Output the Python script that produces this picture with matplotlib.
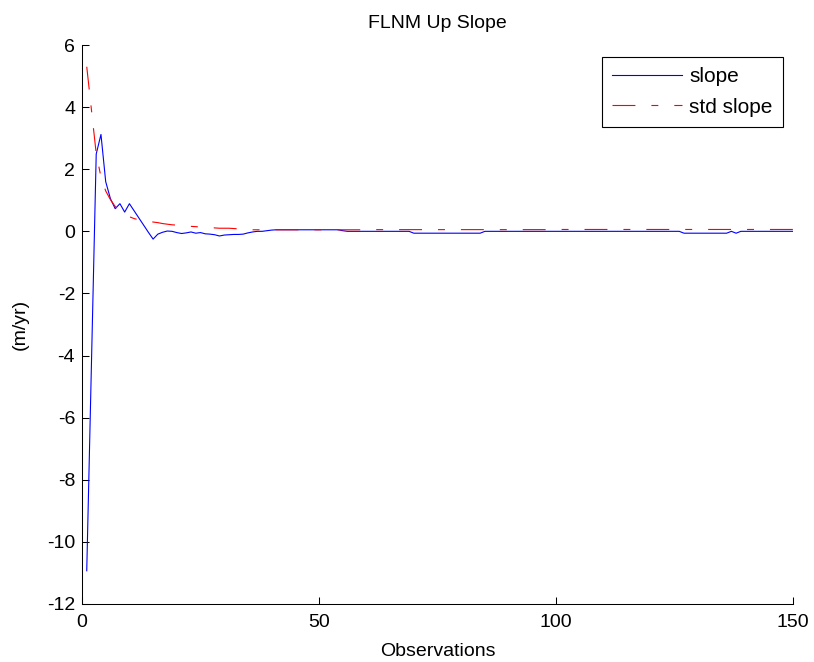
"""FLNM Up Slope: slope estimate and its standard deviation vs number of observations."""

import matplotlib

matplotlib.use("Agg")
import matplotlib.pyplot as plt

plt.rcParams["font.family"] = ["Liberation Sans", "DejaVu Sans"]
plt.rcParams["lines.scale_dashes"] = False
plt.rcParams["axes.unicode_minus"] = False  # MATLAB prints a plain hyphen

observations = list(range(1, 151))

slope = [
    -10.93, -4.20, 2.49, 3.12, 1.60, 1.05, 0.73, 0.89, 0.62, 0.89,    # 1-10
    0.66, 0.43, 0.20, -0.03, -0.25, -0.09, -0.03, 0.01, 0.00, -0.04,  # 11-20
    -0.07, -0.05, -0.02, -0.06, -0.04, -0.08, -0.09, -0.11, -0.15, -0.12,  # 21-30
    -0.11, -0.10, -0.10, -0.09, -0.05, -0.02, 0.00, 0.00, 0.02, 0.04,  # 31-40
    0.05, 0.05, 0.05, 0.05, 0.05, 0.05, 0.05, 0.05, 0.05, 0.05,      # 41-50
    0.05, 0.05, 0.05, 0.05, 0.02, 0.00, 0.00, 0.00, 0.00, 0.00,      # 51-60
    0.00, 0.00, 0.00, 0.00, 0.00, 0.00, 0.00, 0.00, 0.00, -0.06,     # 61-70
    -0.06, -0.06, -0.06, -0.06, -0.06, -0.06, -0.06, -0.06, -0.06, -0.06,  # 71-80
    -0.06, -0.06, -0.06, -0.06, 0.00, 0.00, 0.00, 0.00, 0.00, 0.00,  # 81-90
    0.00, 0.00, 0.00, 0.00, 0.00, 0.00, 0.00, 0.00, 0.00, 0.00,      # 91-100
    0.00, 0.00, 0.00, 0.00, 0.00, 0.00, 0.00, 0.00, 0.00, 0.00,      # 101-110
    0.00, 0.00, 0.00, 0.00, 0.00, 0.00, 0.00, 0.00, 0.00, 0.00,      # 111-120
    0.00, 0.00, 0.00, 0.00, 0.00, 0.00, -0.06, -0.06, -0.06, -0.06,  # 121-130
    -0.06, -0.06, -0.06, -0.06, -0.06, -0.06, 0.00, -0.06, 0.00, 0.00,  # 131-140
    0.00, 0.00, 0.00, 0.00, 0.00, 0.00, 0.00, 0.00, 0.00, 0.00,      # 141-150
]

std_slope = [
    5.30, 3.90, 2.50, 1.75, 1.30, 1.02, 0.80, 0.66, 0.55, 0.47,      # 1-10
    0.41, 0.37, 0.34, 0.32, 0.30, 0.28, 0.25, 0.23, 0.21, 0.20,      # 11-20
    0.18, 0.17, 0.16, 0.15, 0.14, 0.13, 0.12, 0.11, 0.10, 0.10,      # 21-30
    0.10, 0.09, 0.08, 0.07, 0.06, 0.05, 0.05, 0.05, 0.05, 0.05,      # 31-40
    0.05, 0.05, 0.05, 0.05, 0.05, 0.05, 0.05, 0.05, 0.05, 0.05,      # 41-50
    0.05, 0.05, 0.05, 0.05, 0.05, 0.05, 0.05, 0.05, 0.05, 0.05,      # 51-60
    0.055, 0.055, 0.055, 0.055, 0.055, 0.055, 0.055, 0.055, 0.055, 0.055,  # 61-70
    0.055, 0.055, 0.055, 0.055, 0.055, 0.055, 0.055, 0.055, 0.055, 0.055,  # 71-80
    0.055, 0.055, 0.055, 0.055, 0.055, 0.055, 0.055, 0.055, 0.055, 0.055,  # 81-90
    0.055, 0.055, 0.055, 0.055, 0.055, 0.055, 0.055, 0.055, 0.055, 0.055,  # 91-100
    0.06, 0.06, 0.06, 0.06, 0.06, 0.06, 0.06, 0.06, 0.06, 0.06,      # 101-110
    0.06, 0.06, 0.06, 0.06, 0.06, 0.06, 0.06, 0.06, 0.06, 0.06,      # 111-120
    0.06, 0.06, 0.06, 0.06, 0.06, 0.06, 0.06, 0.06, 0.06, 0.06,      # 121-130
    0.06, 0.06, 0.06, 0.06, 0.06, 0.06, 0.06, 0.06, 0.06, 0.06,      # 131-140
    0.06, 0.06, 0.06, 0.06, 0.06, 0.06, 0.06, 0.06, 0.06, 0.06,      # 141-150
]

x_ticks = [0, 50, 100, 150]
y_ticks = [-12, -10, -8, -6, -4, -2, 0, 2, 4, 6]

FS = 14
LEG_FS = 15

fig = plt.figure(figsize=(8.14, 6.62), dpi=100)
ax = fig.add_axes([82 / 814, 1 - 604 / 662, 711 / 814, 559 / 662])

ax.plot(observations, slope, color=(0, 0, 1), linewidth=0.8, label="slope")
ax.plot(observations, std_slope, color=(1, 0, 0), linewidth=0.8,
        dashes=(16.5, 11.5, 5, 11.5), label="std slope")

ax.set_xlim(0, 150)
ax.set_ylim(-12, 6)
ax.set_xticks(x_ticks)
ax.set_yticks(y_ticks)
ax.tick_params(direction="in", length=5, width=0.75, labelsize=FS)
ax.tick_params(axis="x", pad=7)
ax.tick_params(axis="y", pad=5)

# MATLAB "box off" look: only left and bottom axis lines
for side in ("top", "right"):
    ax.spines[side].set_visible(False)
for side in ("left", "bottom"):
    ax.spines[side].set_linewidth(0.75)

ax.set_title("FLNM Up Slope", fontsize=FS, pad=12)
ax.set_xlabel("Observations", fontsize=FS, labelpad=9)
ax.set_ylabel("(m/yr)", fontsize=FS, labelpad=13)

leg = ax.legend(loc="upper right", bbox_to_anchor=(0.986, 0.979),
                borderaxespad=0, fontsize=LEG_FS, handlelength=3.35,
                handletextpad=0.34, labelspacing=0.55, borderpad=0.5,
                fancybox=False, framealpha=1)
leg.get_frame().set_edgecolor("black")
leg.get_frame().set_linewidth(0.8)

fig.savefig("out.png", dpi=100)
